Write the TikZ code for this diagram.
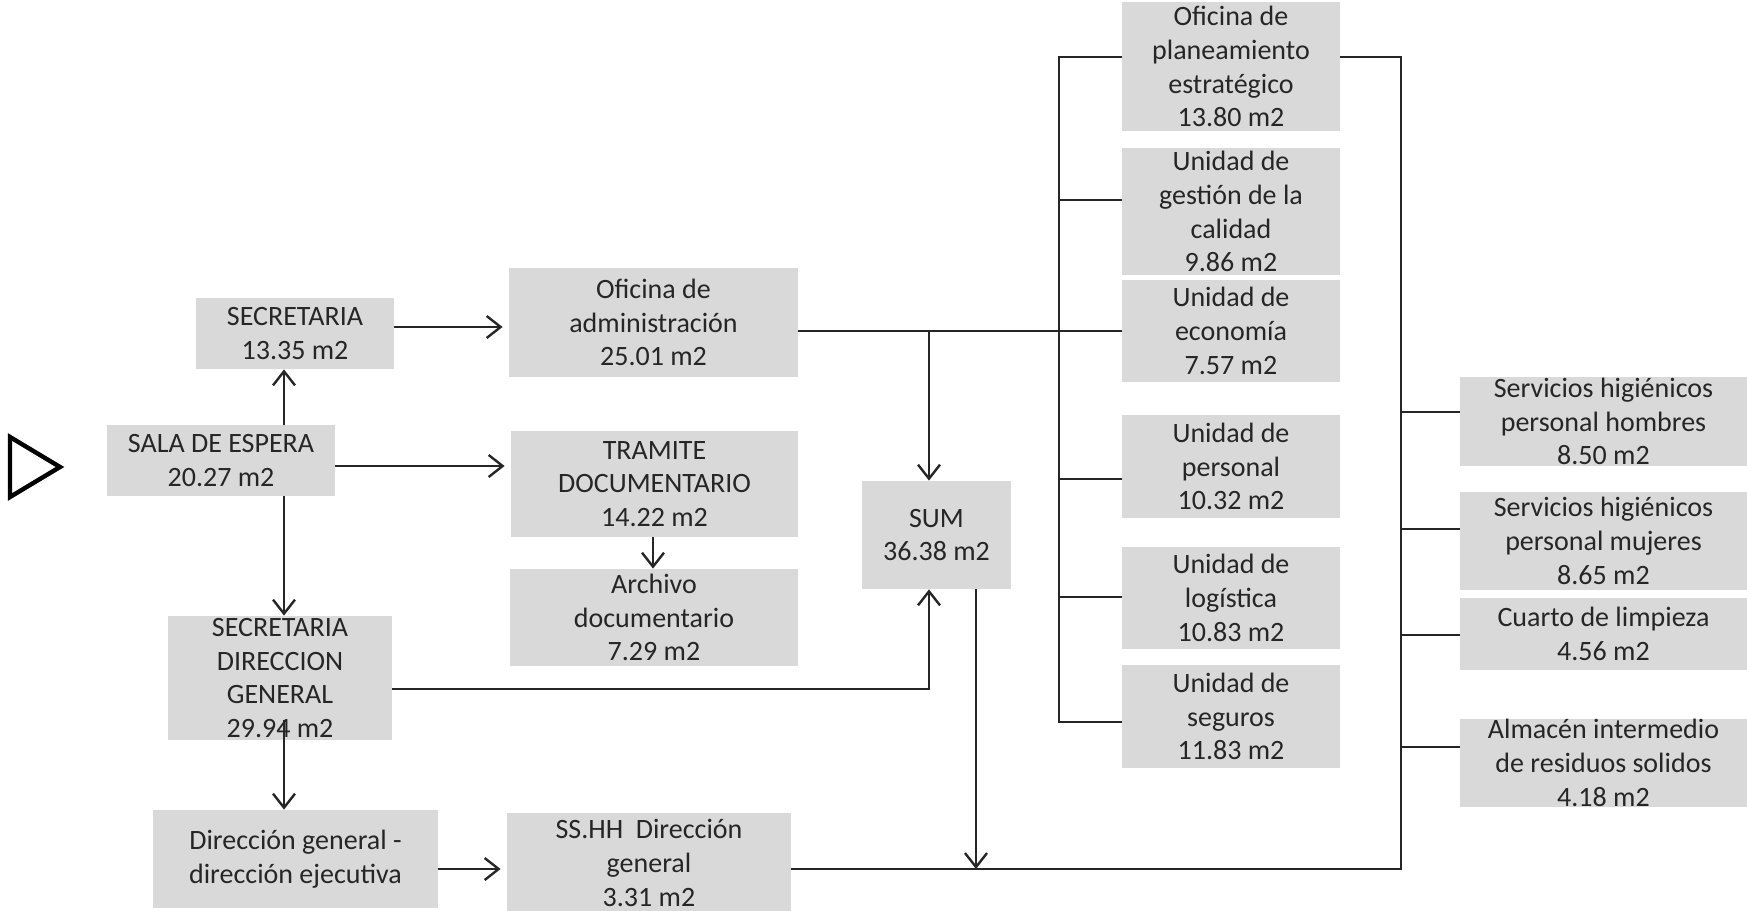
\documentclass[tikz,border=0pt]{standalone}
\usepackage{fontspec}
\setmainfont{Carlito}
\usetikzlibrary{arrows.meta}
\definecolor{boxgray}{HTML}{D9D9D9}
\definecolor{txt}{HTML}{262626}
\begin{document}
\begin{tikzpicture}[x=0.5pt,y=-0.5pt,
  box/.style={fill=boxgray,text=txt,align=center,inner sep=0pt,
    font=\fontsize{14}{16.9}\selectfont},
  wh/.style 2 args={minimum width=#1*0.5pt,minimum height=#2*0.5pt},
  link/.style={line width=1.2pt,draw=black!85},
  arr/.style={link,-{Straight Barb[length=7pt,width=11pt,line width=1.2pt]}}]
\useasboundingbox (0,0) rectangle (1747,911);

% entrance mark
\draw[line width=2.2pt,line join=miter] (10,437) -- (60,467) -- (10,497) -- cycle;

% left group
\node[box,wh={198}{71}]  (secr) at (295,333.5) {SECRETARIA\\13.35 m2};
\node[box,wh={228}{71}]  (sala) at (221,460.5) {SALA DE ESPERA\\20.27 m2};
\node[box,wh={224}{124}] (sdg)  at (280,678)   {SECRETARIA\\DIRECCION\\GENERAL\\29.94 m2};
\node[box,wh={285}{98}]  (dir)  at (295.5,859) {Dirección general -\\dirección ejecutiva};

% middle group
\node[box,wh={289}{109}] (adm)  at (653.5,322.5) {Oficina de\\administración\\25.01 m2};
\node[box,wh={287}{106}] (tram) at (654.5,484)   {TRAMITE\\DOCUMENTARIO\\14.22 m2};
\node[box,wh={288}{97}]  (arch) at (654,617.5)   {Archivo\\documentario\\7.29 m2};
\node[box,wh={284}{100}] (ssh)  at (649,863)     {SS.HH~ Dirección\\general\\3.31 m2};
\node[box,wh={149}{108}] (sum)  at (936.5,535)   {SUM\\36.38 m2};

% offices column
\node[box,wh={218}{129}] (plan) at (1231,66.5)  {Oficina de\\planeamiento\\estratégico\\13.80 m2};
\node[box,wh={218}{127}] (gest) at (1231,211.5) {Unidad de\\gestión de la\\calidad\\9.86 m2};
\node[box,wh={218}{102}] (econ) at (1231,331)   {Unidad de\\economía\\7.57 m2};
\node[box,wh={218}{103}] (pers) at (1231,466.5) {Unidad de\\personal\\10.32 m2};
\node[box,wh={218}{102}] (logi) at (1231,598)   {Unidad de\\logística\\10.83 m2};
\node[box,wh={218}{103}] (segu) at (1231,716.5) {Unidad de\\seguros\\11.83 m2};

% services column
\node[box,wh={287}{89}] (shh) at (1603.5,421.5) {Servicios higiénicos\\personal hombres\\8.50 m2};
\node[box,wh={287}{98}] (shm) at (1603.5,541)   {Servicios higiénicos\\personal mujeres\\8.65 m2};
\node[box,wh={287}{72}] (cua) at (1603.5,634)   {Cuarto de limpieza\\4.56 m2};
\node[box,wh={287}{80}] (alm) at (1603.5,763)   {Almacén intermedio\\de residuos solidos\\4.18 m2};

% connector columns and rows
\coordinate (colA) at (284,0);
\coordinate (colT) at (653,0);
\coordinate (colS) at (929,0);
\coordinate (colD) at (976,0);
\coordinate (busL) at (1059,0);
\coordinate (busR) at (1401,0);
\coordinate (rSec)  at (0,327);
\coordinate (rSala) at (0,466);
\coordinate (rAdm)  at (0,331);
\coordinate (rSdg)  at (0,689);
\coordinate (rSdgD) at (0,720);
\coordinate (rBot)  at (0,869);
\coordinate (rPlan) at (0,57);
\coordinate (rGest) at (0,200);
\coordinate (rPers) at (0,479);
\coordinate (rLogi) at (0,597);
\coordinate (rSegu) at (0,722);
\coordinate (rShh)  at (0,412);
\coordinate (rShm)  at (0,529);
\coordinate (rCua)  at (0,635);
\coordinate (rAlm)  at (0,747);

% left flows
\draw[arr] (colA |- sala.north) -- (colA |- secr.south);
\draw[arr] (colA |- sala.south) -- (colA |- sdg.north);
\draw[arr] (colA |- rSdgD) -- (colA |- dir.north);
\draw[arr,shorten >=3pt] (secr.east |- rSec) -- (adm.west |- rSec);
\draw[arr,shorten >=3pt] (sala.east |- rSala) -- (tram.west |- rSala);
\draw[arr] (colT |- tram.south) -- (colT |- arch.north);
\draw[arr,shorten >=3pt] (dir.east |- rBot) -- (ssh.west |- rBot);

% administration and SUM
\draw[link] (adm.east |- rAdm) -- (econ.west |- rAdm);
\draw[arr] (colS |- rAdm) -- (colS |- sum.north);
\draw[arr] (sdg.east |- rSdg) -| (colS |- sum.south);
\draw[arr] (colD |- sum.south) -- (colD |- rBot);

% left bus of the offices
\draw[link] (plan.west |- rPlan) -| (busL |- rSegu) -- (segu.west |- rSegu);
\draw[link] (busL |- rGest) -- (gest.west |- rGest);
\draw[link] (busL |- rPers) -- (pers.west |- rPers);
\draw[link] (busL |- rLogi) -- (logi.west |- rLogi);

% right bus to the services
\draw[link] (ssh.east |- rBot) -| (busR |- rPlan) -- (plan.east |- rPlan);
\draw[link] (busR |- rShh) -- (shh.west |- rShh);
\draw[link] (busR |- rShm) -- (shm.west |- rShm);
\draw[link] (busR |- rCua) -- (cua.west |- rCua);
\draw[link] (busR |- rAlm) -- (alm.west |- rAlm);
\end{tikzpicture}
\end{document}
